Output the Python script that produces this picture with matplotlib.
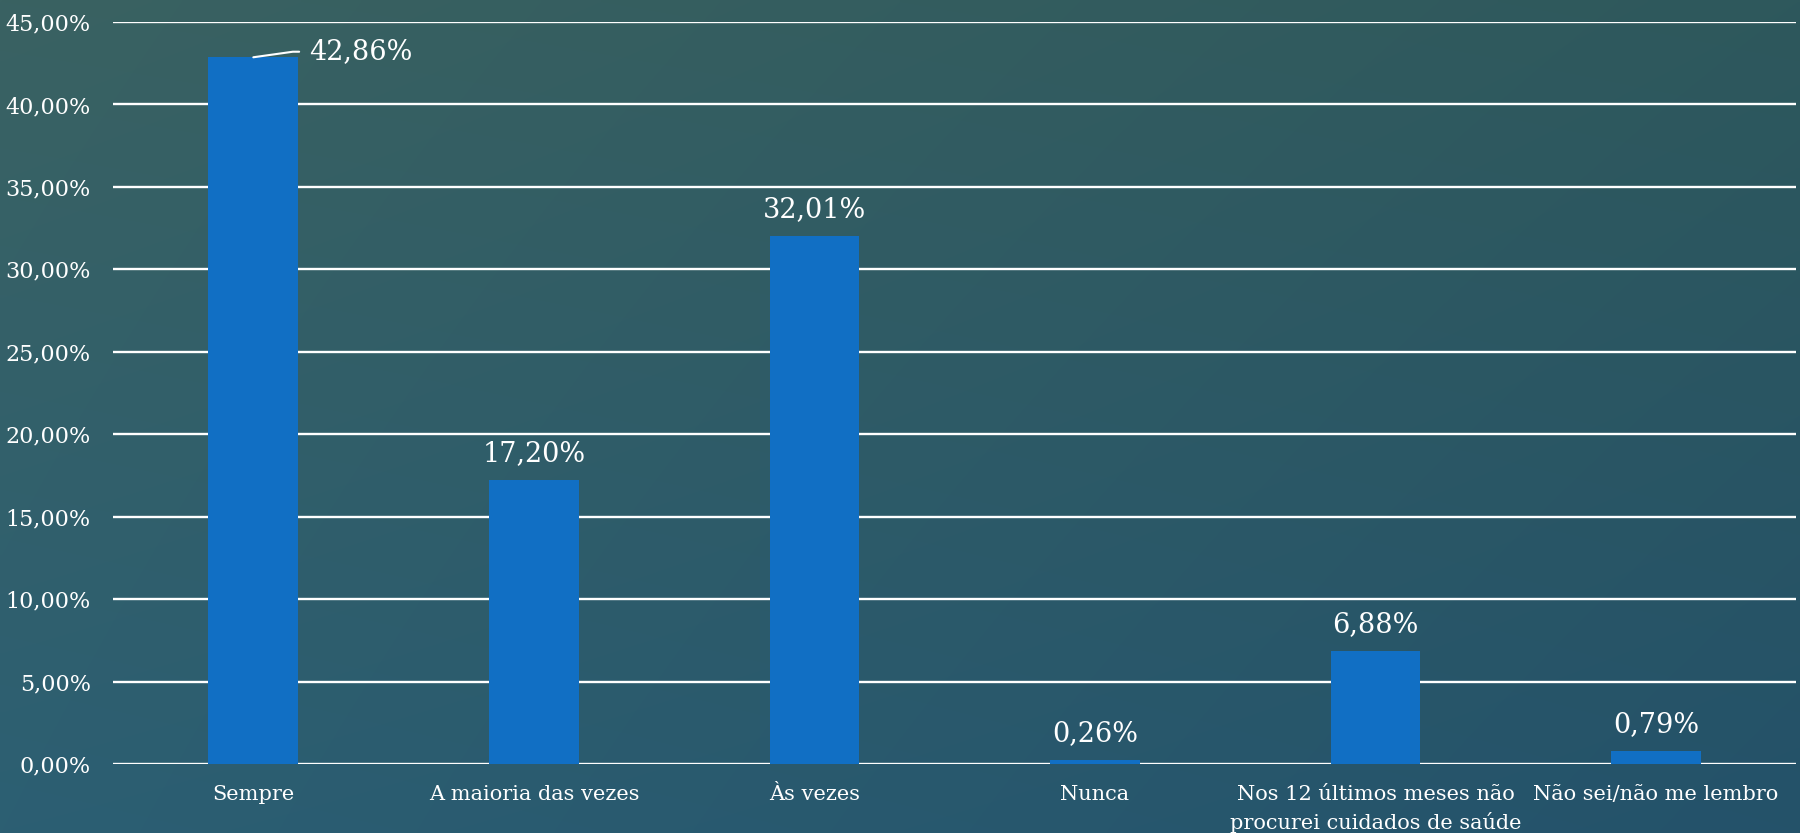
import numpy as np
import matplotlib.pyplot as plt

# Survey answers and their share of respondents (%)
categories = ['Sempre', 'A maioria das vezes', 'Às vezes', 'Nunca',
              'Nos 12 últimos meses não\nprocurei cuidados de saúde',
              'Não sei/não me lembro']
shares = [42.86, 17.20, 32.01, 0.26, 6.88, 0.79]
y_ticks = [0, 5, 10, 15, 20, 25, 30, 35, 40, 45]

plt.rcParams['font.family'] = ['DejaVu Serif']

fig = plt.figure(figsize=(18, 8.33), dpi=100)

# dark teal backdrop, slightly lighter top-left, bluer towards the bottom
bg = fig.add_axes([0, 0, 1, 1], zorder=-1)
bg.axis('off')
yy, xx = np.mgrid[0:1:200j, 0:1:400j]
c_tl = np.array([58, 98, 98]) / 255
c_tr = np.array([46, 88, 92]) / 255
c_bl = np.array([44, 95, 115]) / 255
c_br = np.array([36, 82, 106]) / 255
grad = (c_tl[None, None] * ((1 - xx) * (1 - yy))[..., None]
        + c_tr[None, None] * (xx * (1 - yy))[..., None]
        + c_bl[None, None] * ((1 - xx) * yy)[..., None]
        + c_br[None, None] * (xx * yy)[..., None])
bg.imshow(grad, aspect='auto', extent=[0, 1, 0, 1], interpolation='bilinear')

ax = fig.add_axes([0.0628, 0.0828, 0.9352, 0.8908])
ax.set_facecolor('none')
x = np.arange(len(categories))
bars = ax.bar(x, shares, width=0.32, color='#116FC4', zorder=3)

ax.set_xlim(-0.5, len(categories) - 0.5)
ax.set_ylim(0, 45)
ax.set_yticks(y_ticks)
ax.set_yticklabels([f'{v:.2f}%'.replace('.', ',') for v in y_ticks])
ax.set_xticks(x)
ax.set_xticklabels(categories, linespacing=1.5)
ax.tick_params(axis='both', length=0, colors='white')
ax.tick_params(axis='y', pad=16, labelsize=16)
ax.tick_params(axis='x', pad=15, labelsize=15)

ax.grid(axis='y', color='white', linewidth=1.7, zorder=1)
ax.set_axisbelow(True)
for s in ax.spines.values():
    s.set_visible(False)

# value labels; the tallest one sits to the side with a leader line
for i, (b, v) in enumerate(zip(bars, shares)):
    txt = f'{v:.2f}%'.replace('.', ',')
    if i == 0:
        ax.annotate(txt, xy=(b.get_x() + b.get_width() / 2, v),
                    xytext=(40, 4), textcoords='offset points',
                    ha='left', va='center', color='white', fontsize=19.5,
                    arrowprops=dict(arrowstyle='-', color='white', lw=1.5,
                                    connectionstyle='angle,angleA=0,angleB=8,rad=0',
                                    shrinkA=5, shrinkB=0))
    else:
        ax.annotate(txt, xy=(b.get_x() + b.get_width() / 2, v),
                    xytext=(0, 19), textcoords='offset points',
                    ha='center', va='center', color='white', fontsize=19.5)

fig.savefig('out.png', dpi=100)
